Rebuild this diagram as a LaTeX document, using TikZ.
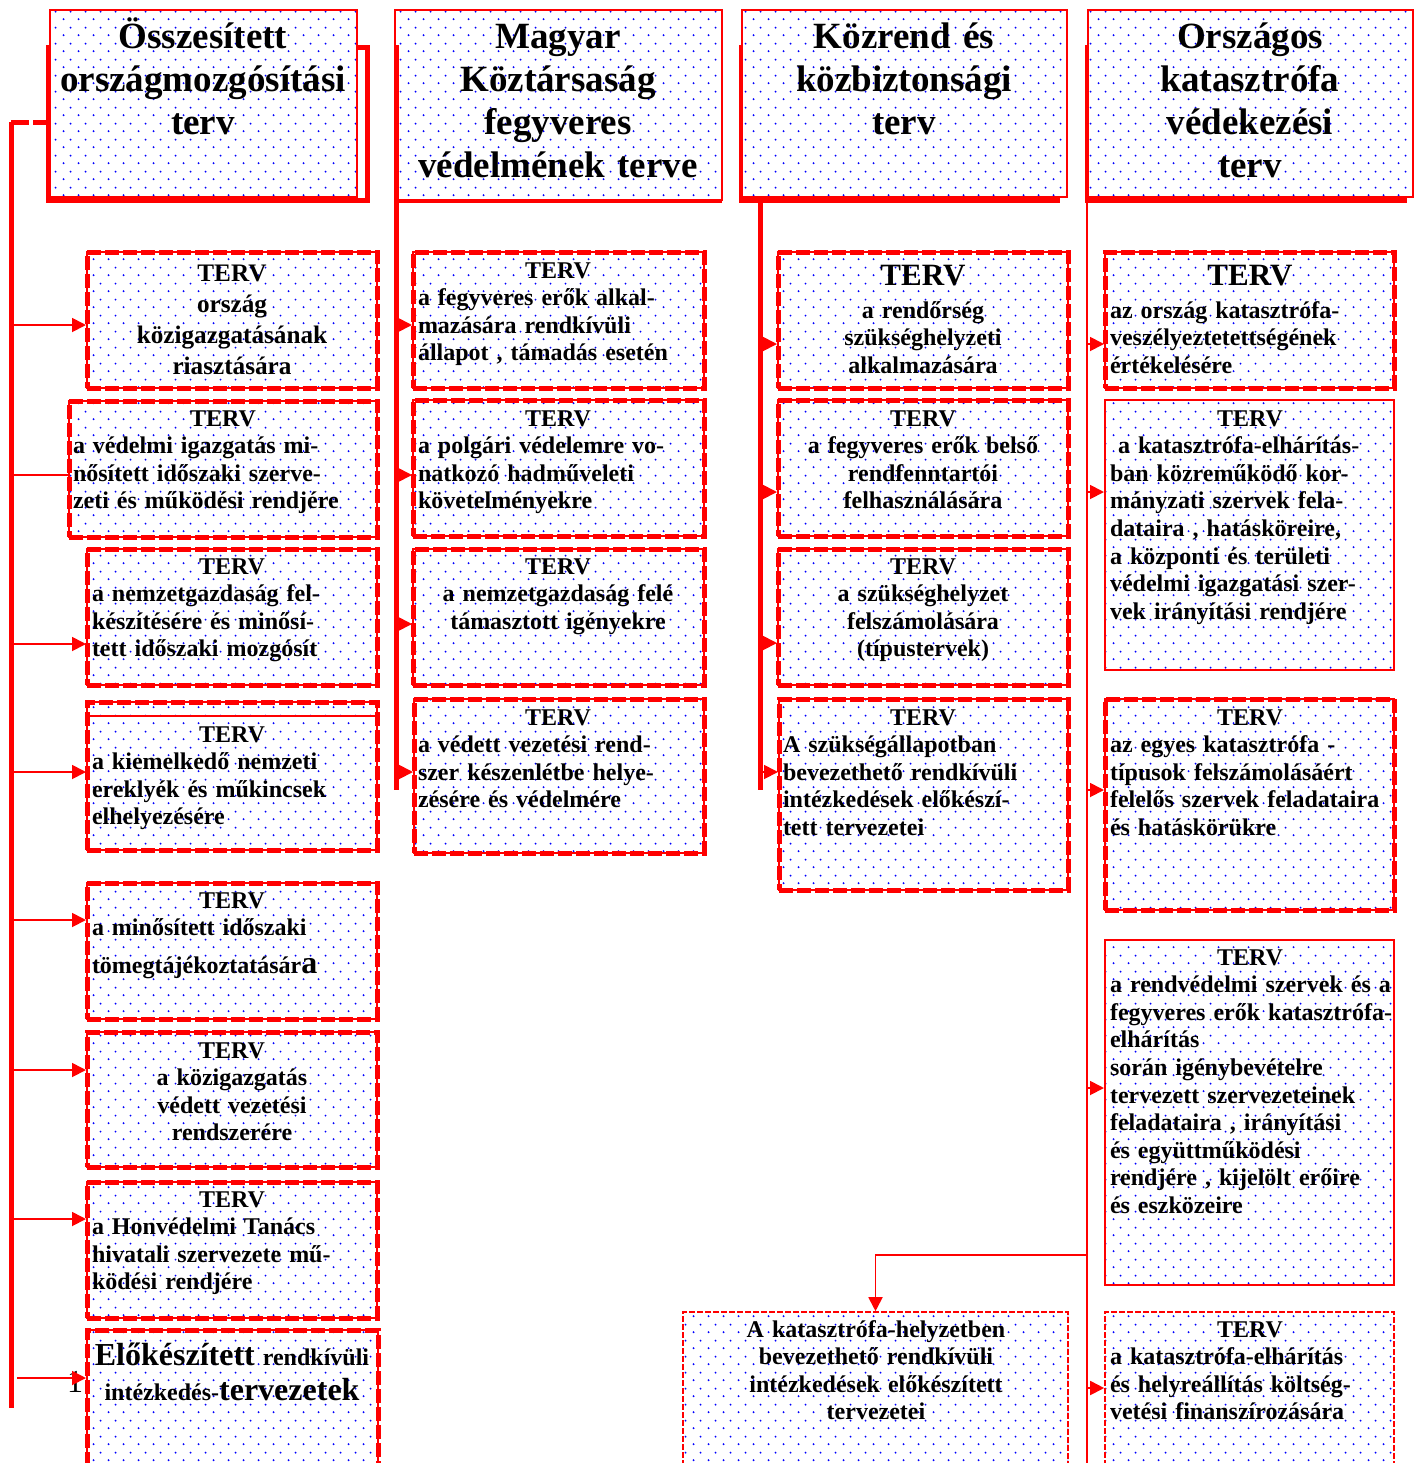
\documentclass[tikz,border=0pt]{standalone}
\usepackage{fontspec}
\setmainfont{Liberation Serif}
\usetikzlibrary{arrows.meta,patterns.meta,fit}
\tikzdeclarepattern{name=pontok, type=uncolored,
  bounding box={(0pt,0pt) and (7.5pt,8pt)}, tile size={(7.5pt,8pt)},
  code={\fill (1.875pt,2pt) circle (0.55pt); \fill (5.625pt,6pt) circle (0.55pt);}}
\newcommand\tervsor{\centerline{TERV}\\}
\tikzset{
  pontos/.style={preaction={fill=white}, pattern=pontok, pattern color=blue},
  fejdoboz/.style={pontos, draw=red, line width=1pt, inner sep=0pt},
  tervdoboz/.style={pontos, draw=red, line width=1pt, inner sep=0pt,
    postaction={draw=red, line width=2.5pt, dash pattern=on 7pt off 2pt}},
  vekonydoboz/.style={pontos, draw=red, line width=1pt, inner sep=0pt},
  szaggdoboz/.style={pontos, draw=red, line width=0.8pt, dash pattern=on 3pt off 1pt, inner sep=0pt},
  fejtxt/.style={font=\bfseries\fontsize{18.5}{21.5}\selectfont, inner sep=0pt, anchor=base, text width=158pt, align=center},
  tervtxt/.style={font=\bfseries\fontsize{12}{13.8}\selectfont, inner sep=0pt, anchor=base, text width=140pt, align=left},
  tervkoz/.style={tervtxt, align=center},
  arnyek/.style={draw=red, line width=2.5pt},
  torzs/.style={draw=red, line width=2.5pt},
  vtorzs/.style={draw=red, line width=0.9pt},
  ag/.style={draw=red, line width=0.9pt, -{Triangle[length=7pt,width=7pt]}},
}
\begin{document}
\begin{tikzpicture}[x=0.5pt,y=-0.5pt]
  \useasboundingbox (0,0) rectangle (1418,1463);
  \clip (0,0) rectangle (1418,1463);

  % fejlecek
  \draw[arnyek] (48,45) -- (48,200) -- (367,200) -- (367,47) -- (357,47);
  \node[fejdoboz, fit={(50,10) (357,197)}] (h1) {};
  \node[fejtxt] (h1t) at (203,48) {Összesített\\országmozgósítási\\terv};

  \draw[red, line width=1.5pt] (395,201) -- (722,201);
  \node[fejdoboz, fit={(395,10) (722,200)}] (h2) {};
  \node[fejtxt] (h2t) at (558,48) {Magyar\\Köztársaság\\fegyveres\\védelmének terve};

  \draw[arnyek] (741,45) -- (741,200) -- (1060,200);
  \node[fejdoboz, fit={(742,10) (1067,197)}] (h3) {};
  \node[fejtxt] (h3t) at (904,48) {Közrend és\\közbiztonsági\\terv};

  \draw[arnyek] (1087,45) -- (1087,200) -- (1407,200);
  \node[fejdoboz, fit={(1088,10) (1413,197)}] (h4) {};
  \node[fejtxt] (h4t) at (1250,48) {Országos\\katasztrófa\\védekezési\\terv};

  % elso oszlop
  \node[tervdoboz, fit={(87,252) (377,388)}] (b1) {};
  \node[tervkoz, font=\bfseries\fontsize{12.6}{15.5}\selectfont] (b1t) at (232,281) {TERV\\ország\\közigazgatásának\\riasztására};
  \node[tervdoboz, fit={(69,401) (377,537)}] (b2) {};
  \node[tervtxt, text width=150pt] (b2t) at (223,426) {\tervsor a védelmi igazgatás mi-\\nősített időszaki szerve-\\zeti és működési rendjére};
  \node[tervdoboz, fit={(87,549) (377,685)}] (b3) {};
  \node[tervtxt] (b3t) at (232,574) {\tervsor a nemzetgazdaság fel-\\készítésére és minősí-\\tett időszaki mozgósít};
  \node[tervdoboz, fit={(87,702) (377,850)}] (b4) {};
  \draw[red, line width=1pt] (88,716) -- (376,716);
  \node[tervtxt] (b4t) at (232,742) {\tervsor a kiemelkedő nemzeti\\ereklyék és műkincsek\\elhelyezésére};
  \node[tervdoboz, fit={(87,883) (377,1019)}] (b5) {};
  \node[tervtxt] (b5t) at (232,908) {\tervsor a minősített időszaki\\[5pt]tömegtájékoztatásár{\fontsize{16}{16}\selectfont a}};
  \node[tervdoboz, fit={(87,1032) (377,1167)}] (b6) {};
  \node[tervkoz] (b6t) at (232,1058) {TERV\\a közigazgatás\\védett vezetési\\rendszerére};
  \node[tervdoboz, fit={(87,1182) (377,1318)}] (b7) {};
  \node[tervtxt] (b7t) at (232,1207) {\tervsor a Honvédelmi Tanács\\hivatali szervezete mű-\\ködési rendjére};
  \node[font=\fontsize{16}{16}\selectfont, anchor=base, inner sep=0pt] (egy) at (75,1392) {1};
  \node[tervdoboz, fit={(87,1330) (378,1490)}] (b8) {};
  \node[tervkoz, text width=144pt] (b8t) at (232,1365) {{\fontsize{16}{18}\selectfont Előkészített} rendkívüli\\[4pt]intézkedés-{\fontsize{16}{18}\selectfont tervezetek}};

  % masodik oszlop
  \node[tervdoboz, fit={(413,252) (704,388)}] (c1) {};
  \node[tervtxt] (c1t) at (558,278) {\tervsor a fegyveres erők alkal-\\mazására rendkívüli\\állapot , támadás esetén};
  \node[tervdoboz, fit={(413,400) (704,536)}] (c2) {};
  \node[tervtxt] (c2t) at (558,426) {\tervsor a polgári védelemre vo-\\natkozó hadműveleti\\követelményekre};
  \node[tervdoboz, fit={(413,549) (704,685)}] (c3) {};
  \node[tervkoz] (c3t) at (558,574) {TERV\\a nemzetgazdaság felé\\támasztott igényekre};
  \node[tervdoboz, fit={(414,699) (704,853)}] (c4) {};
  \node[tervtxt] (c4t) at (558,725) {\tervsor a védett vezetési rend-\\szer készenlétbe helye-\\zésére és védelmére};

  % harmadik oszlop
  \node[tervdoboz, fit={(778,252) (1068,388)}] (d1) {};
  \node[tervkoz] (d1t) at (923,285) {{\fontsize{15.5}{17}\selectfont TERV}\\[2.7pt]a rendőrség\\szükséghelyzeti\\alkalmazására};
  \node[tervdoboz, fit={(778,400) (1068,536)}] (d2) {};
  \node[tervkoz] (d2t) at (923,426) {TERV\\a fegyveres erők belső\\rendfenntartói\\felhasználására};
  \node[tervdoboz, fit={(778,549) (1068,685)}] (d3) {};
  \node[tervkoz] (d3t) at (923,574) {TERV\\a szükséghelyzet\\felszámolására\\(típustervek)};
  \node[tervdoboz, fit={(779,699) (1068,890)}] (d4) {};
  \node[tervtxt] (d4t) at (923,725) {\tervsor A szükségállapotban\\bevezethető rendkívüli\\intézkedések előkészí-\\tett tervezetei};
  \node[szaggdoboz, fit={(683,1312) (1068,1490)}] (d5) {};
  \node[tervkoz, text width=180pt] (d5t) at (876,1337) {A katasztrófa-helyzetben\\bevezethető rendkívüli\\intézkedések előkészített\\tervezetei};

  % negyedik oszlop
  \node[tervdoboz, fit={(1105,252) (1394,388)}] (e1) {};
  \node[tervtxt, text width=146pt] (e1t) at (1256,285) {\hbox to 140pt{\hss\fontsize{15.5}{17}\selectfont TERV\hss}\\[2.7pt]az ország katasztrófa-\\veszélyeztetettségének\\értékelésére};
  \node[vekonydoboz, fit={(1105,400) (1394,670)}] (e2) {};
  \node[tervtxt, text width=146pt] (e2t) at (1256,426) {\hbox to 140pt{\hss TERV\hss}\\\hspace*{4pt}a katasztrófa-elhárítás-\\ban közreműködő kor-\\mányzati szervek fela-\\dataira , hatásköreire,\\a központi és területi\\védelmi igazgatási szer-\\vek irányítási rendjére};
  \node[tervdoboz, fit={(1105,699) (1394,910)}] (e3) {};
  \node[tervtxt, text width=146pt] (e3t) at (1256,725) {\hbox to 140pt{\hss TERV\hss}\\az egyes katasztrófa -\\típusok felszámolásáért\\felelős szervek feladataira\\és hatáskörükre};
  \node[vekonydoboz, fit={(1105,940) (1394,1285)}] (e4) {};
  \node[tervtxt, text width=146pt] (e4t) at (1256,965) {\hbox to 140pt{\hss TERV\hss}\\a rendvédelmi szervek és a\\fegyveres erők katasztrófa-\\elhárítás\\során igénybevételre\\tervezett szervezeteinek\\feladataira , irányítási\\és együttműködési\\rendjére , kijelölt erőire\\és eszközeire};
  \node[szaggdoboz, fit={(1105,1312) (1394,1490)}] (e5) {};
  \node[tervtxt, text width=146pt] (e5t) at (1256,1337) {\hbox to 140pt{\hss TERV\hss}\\a katasztrófa-elhárítás\\és helyreállítás költség-\\vetési finanszírozására};

  % torzsvonalak
  \coordinate (t1a) at (11,122);
  \coordinate (t1b) at (11,1408);
  \draw[torzs] (t1a) -- (t1b);
  \draw[torzs, dash pattern=on 9pt off 2pt] (t1a) -- (t1a -| h1.west);
  \coordinate (t2a) at (396,45);
  \coordinate (t2b) at (396,790);
  \draw[torzs] (t2a) -- (t2b);
  \coordinate (t3a) at (760,200);
  \coordinate (t3b) at (760,790);
  \draw[torzs] (t3a) -- (t3b);
  \coordinate (t4a) at (1087,200);
  \coordinate (t4b) at (1087,1463);
  \draw[vtorzs] (t4a) -- (t4b);

  % agak
  \draw[ag] (11,325) -- (b1.west |- 0,325);
  \draw[vtorzs] (11,475) -- (b2.west |- 0,475);
  \draw[ag] (11,644) -- (b3.west |- 0,644);
  \draw[ag] (11,772) -- (b4.west |- 0,772);
  \draw[ag] (11,920) -- (b5.west |- 0,920);
  \draw[ag] (11,1070) -- (b6.west |- 0,1070);
  \draw[ag] (11,1219) -- (b7.west |- 0,1219);
  \draw[ag] (17,1378) -- (b8.west |- 0,1378);

  \draw[ag] (397,325) -- (c1.west |- 0,325);
  \draw[ag] (397,475) -- (c2.west |- 0,475);
  \draw[ag] (397,624) -- (c3.west |- 0,624);
  \draw[ag] (397,772) -- (c4.west |- 0,772);

  \draw[ag] (761,344) -- (d1.west |- 0,344);
  \draw[ag] (761,492) -- (d2.west |- 0,492);
  \draw[ag] (761,643) -- (d3.west |- 0,643);
  \draw[ag] (761,772) -- (d4.west |- 0,772);

  \draw[ag] (1087,344) -- (e1.west |- 0,344);
  \draw[ag] (1087,492) -- (e2.west |- 0,492);
  \draw[ag] (1087,790) -- (e3.west |- 0,790);
  \draw[ag] (1087,1088) -- (e4.west |- 0,1088);
  \draw[ag] (1087,1388) -- (e5.west |- 0,1388);
  \draw[ag] (1087,1255) -| (d5.north);
\end{tikzpicture}
\end{document}
